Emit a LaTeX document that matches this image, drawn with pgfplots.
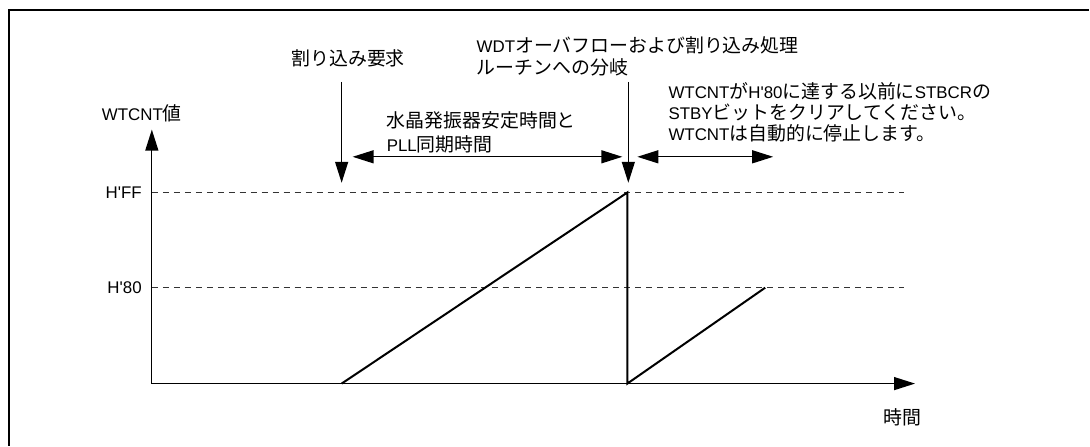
\documentclass[border=0pt]{standalone}
\usepackage{fontspec}
\setmainfont{Liberation Sans}
\newfontfamily\jp[Scale=1.12]{Noto Sans CJK JP}
\usepackage{pgfplots}
\pgfplotsset{compat=1.18}
\usetikzlibrary{arrows.meta}
\newcommand\fs{\fontsize{16.9}{21}\selectfont}
\newcommand\q{\textquotesingle}

\begin{document}
\begin{tikzpicture}[font=\fs,
  arr/.style={line width=1.3pt, -{Triangle[length=21pt,width=13pt]}},
  darr/.style={line width=1.3pt, {Triangle[length=21pt,width=13pt]}-{Triangle[length=21pt,width=13pt]}},
  lbl/.style={inner sep=0pt, align=left, anchor=west}]
\begin{axis}[
  scale only axis, width=764pt, height=254.25pt,
  xmin=0, xmax=764, ymin=0, ymax=339, enlargelimits=false,
  axis lines=left,
  axis line style={line width=1.3pt, -{Triangle[length=21pt,width=13pt]}},
  xtick=\empty, ytick={128,255}, yticklabels={H\q 80,H\q FF},
  major tick length=0pt,
  yticklabel style={inner sep=0pt, xshift=-10pt, font=\fs},
  clip=false,
]
% reference lines
\addplot[black!80, line width=0.9pt, dash pattern=on 6pt off 5pt] coordinates {(0,255) (753,255)};
\addplot[black!80, line width=0.9pt, dash pattern=on 6pt off 5pt] coordinates {(0,128) (753,128)};
% counter value
\addplot[black, line width=2pt, line join=miter] coordinates {
  (190,0) (476,255) (476,0) (614,128) };

% frame (top and left only)
\draw[line width=2.3pt] (axis cs:-143,-82.67) -- (axis cs:-143,498.67) -- (axis cs:938,498.67);
\path (axis cs:-152,-82.67) rectangle (axis cs:938,512);

% annotations
\draw[arr] (axis cs:190,402.7) -- (axis cs:190,268);
\draw[arr] (axis cs:477,402.7) -- (axis cs:477,268);
\draw[darr] (axis cs:201,302.7) -- (axis cs:471,302.7);
\draw[darr] (axis cs:486,302.7) -- (axis cs:622,302.7);

\node[inner sep=0pt] at (axis cs:196.5,434.7) {\jp 割り込み要求};
\node[lbl] at (axis cs:235,335.3) {{\jp 水晶発振器安定時間と}\\[3pt]PLL{\jp 同期時間}};
\node[lbl] at (axis cs:325,436.7) {WDT{\jp オーバフローおよび割り込み処理}\\[1pt]{\jp ルーチンへの分岐}};
\node[lbl] at (axis cs:517,362) {WTCNT{\jp が}H\q 80{\jp に達する以前に}STBCR{\jp の}\\STBY{\jp ビットをクリアしてください。}\\WTCNT{\jp は自動的に停止します。}};
\node[inner sep=0pt] at (axis cs:-10,361.3) {WTCNT{\jp 値}};
\node[inner sep=0pt] at (axis cs:751,-45.3) {\jp 時間};
\end{axis}
\end{tikzpicture}
\end{document}
